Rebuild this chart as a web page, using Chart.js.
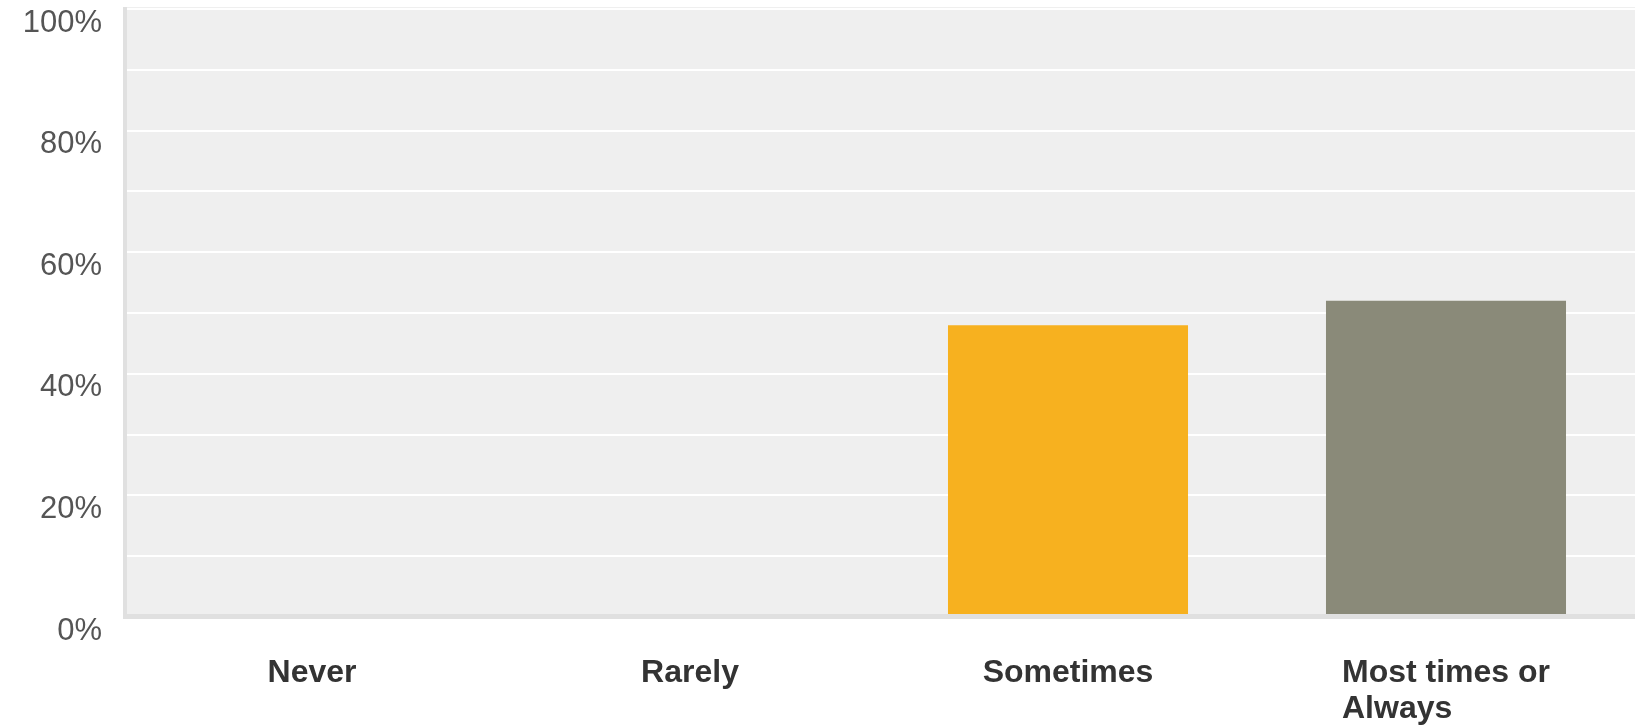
<!DOCTYPE html>
<html>
<head>
<meta charset="utf-8">
<script src="https://cdn.jsdelivr.net/npm/chart.js@4"></script>
<style>
  html, body { margin: 0; padding: 0; background: #fff; }
  #wrap { width: 1650px; height: 727px; }
</style>
</head>
<body>
<div id="wrap"><canvas id="myChart" width="1650" height="727"></canvas></div>
<script>
// data
const categories = [['Never'], ['Rarely'], ['Sometimes'], ['Most times or', 'Always']];
const percentValues = [0, 0, 48, 52];
const barColors = ['#f7b11f', '#f7b11f', '#f7b11f', '#8a8a79'];
const yTickLabels = ['0%', '20%', '40%', '60%', '80%', '100%'];

// grey plot background + axis edges
const plotBack = {
  id: 'plotBack',
  beforeDraw(chart) {
    const {ctx, chartArea: a} = chart;
    ctx.save();
    ctx.fillStyle = '#efefef';
    ctx.fillRect(a.left, a.top - 2, a.right - a.left, a.bottom - a.top + 2);
    ctx.restore();
  },
  afterDatasetsDraw(chart) {
    const {ctx, chartArea: a} = chart;
    ctx.save();
    ctx.fillStyle = '#e0e0e0';
    ctx.fillRect(a.left, a.top - 2, 4, a.bottom - a.top + 4);
    ctx.fillRect(a.left, a.bottom - 3, a.right - a.left, 5);
    ctx.restore();
  }
};

// x labels: block centred under the bar, lines left aligned
const xLabels = {
  id: 'xLabels',
  afterDraw(chart) {
    const {ctx} = chart;
    const xs = chart.scales.x;
    ctx.save();
    ctx.font = 'bold 32px "Liberation Sans", Arial, sans-serif';
    ctx.fillStyle = '#333';
    ctx.textAlign = 'left';
    ctx.textBaseline = 'alphabetic';
    categories.forEach((lines, i) => {
      const w = Math.max(...lines.map(l => ctx.measureText(l).width));
      const cx = xs.getPixelForTick(i);
      lines.forEach((l, j) => ctx.fillText(l, cx - w / 2, xs.top + 65 + j * 36));
    });
    ctx.restore();
  }
};

const canvas = document.getElementById('myChart').getContext('2d');
const myChart = new Chart(canvas, {
  type: 'bar',
  data: {
    labels: categories.map(c => c.join(' ')),
    datasets: [
      {
        label: 'Share',
        data: percentValues,
        backgroundColor: barColors,
        borderWidth: 0,
        barPercentage: 0.635,
        categoryPercentage: 1
      }
    ]
  },
  options: {
    responsive: false,
    animation: false,
    layout: { padding: { top: 9, right: 15, left: 0, bottom: 0 } },
    plugins: {
      legend: { display: false },
      tooltip: { enabled: false }
    },
    scales: {
      x: {
        ticks: { display: false },
        grid: { display: false },
        border: { display: false },
        afterFit(scale) { scale.height = 110; }
      },
      y: {
        min: 0,
        max: 100,
        ticks: {
          stepSize: 10,
          padding: 21,
          labelOffset: 14,
          color: '#555',
          font: { family: '"Liberation Sans", Arial, sans-serif', size: 31 },
          callback: v => (v % 20 === 0 ? yTickLabels[v / 20] : '')
        },
        grid: { color: '#ffffff', lineWidth: 2, drawTicks: false },
        border: { display: false },
        afterFit(scale) {
          scale.width = 123;
          scale.paddingTop = 0;
          scale.paddingBottom = 0;
        }
      }
    }
  },
  plugins: [plotBack, xLabels]
});
</script>
</body>
</html>
